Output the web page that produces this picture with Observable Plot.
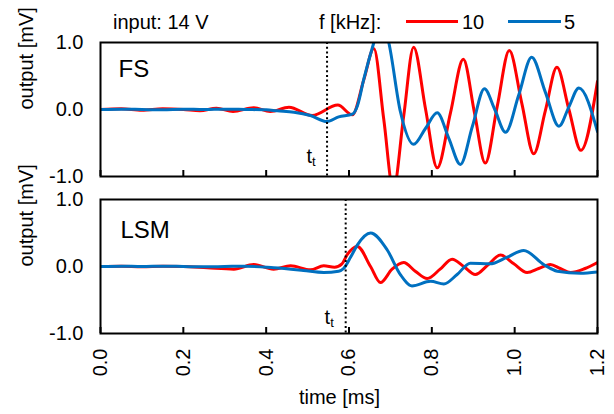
<!DOCTYPE html>
<html>
<head>
<meta charset="utf-8">
<script src="https://cdn.jsdelivr.net/npm/d3@7"></script>
<script src="https://cdn.jsdelivr.net/npm/@observablehq/plot@0.6"></script>
<style>
  html, body { margin: 0; padding: 0; background: #fff; }
  body { width: 614px; height: 414px; overflow: hidden; font-family: "Liberation Sans", Arial, sans-serif; color: #000; }
  #legend { position: relative; width: 614px; height: 32px; font-size: 20px; line-height: 20px; }
  #legend span { position: absolute; white-space: nowrap; }
  #legend .sw { position: absolute; height: 3px; }
</style>
</head>
<body>
<div id="legend"></div>
<div id="chart"></div>
<script>
// ---- data ----
const panels = ["FS", "LSM"];
const freqs = ["10", "5"];            // kHz
const colors = ["#FF0000", "#0070C0"];
const inputLabel = "input: 14 V";
const ttTimes = [0.547, 0.592];       // t_t marker per panel (ms)

const xTicks = [0, 0.2, 0.4, 0.6, 0.8, 1.0, 1.2];
const yTicks = [-1, 0, 1];

// FS, 10 kHz
const fsTime10 = [0, 0.05, 0.1, 0.15, 0.2, 0.24, 0.28, 0.32, 0.37, 0.41, 0.455, 0.511, 0.573, 0.608, 0.636, 0.660, 0.684, 0.707, 0.732, 0.756, 0.785, 0.813, 0.845, 0.876, 0.903, 0.929, 0.958, 0.987, 1.017, 1.046, 1.074, 1.102, 1.131, 1.160, 1.2];
const fsOut10  = [0, 0.01, -0.01, 0.01, 0, -0.02, 0.02, -0.03, 0.025, -0.03, 0.035, -0.09, 0.067, -0.08, 0.45, 0.91, -0.15, -1.2, -0.1, 0.93, 0.0, -0.87, -0.05, 0.75, -0.05, -0.80, 0.05, 0.88, 0.1, -0.66, -0.02, 0.63, 0.0, -0.61, 0.42];
// FS, 5 kHz
const fsTime5 = [0, 0.05, 0.1, 0.15, 0.2, 0.25, 0.3, 0.35, 0.4, 0.427, 0.467, 0.507, 0.547, 0.575, 0.608, 0.62, 0.636, 0.660, 0.678, 0.696, 0.724, 0.756, 0.785, 0.813, 0.841, 0.869, 0.898, 0.927, 0.952, 0.978, 1.01, 1.041, 1.074, 1.107, 1.131, 1.155, 1.2];
const fsOut5  = [0, 0.005, 0, -0.005, 0.005, 0, 0.005, 0, -0.005, -0.02, -0.04, -0.09, -0.18, -0.11, -0.07, 0.05, 0.46, 1.0, 1.35, 1.0, -0.03, -0.52, -0.28, -0.05, -0.43, -0.82, -0.25, 0.31, 0.0, -0.34, 0.22, 0.78, 0.26, -0.25, 0.04, 0.32, -0.33];
// LSM, 10 kHz
const lsmTime10 = [0, 0.05, 0.1, 0.15, 0.2, 0.258, 0.322, 0.37, 0.418, 0.459, 0.507, 0.539, 0.565, 0.583, 0.596, 0.620, 0.652, 0.676, 0.704, 0.732, 0.760, 0.789, 0.82, 0.849, 0.877, 0.905, 0.935, 0.966, 0.998, 1.030, 1.058, 1.086, 1.11, 1.135, 1.17, 1.2];
const lsmOut10  = [0, 0.005, -0.005, 0.005, 0, -0.02, -0.04, 0.03, -0.04, 0.01, -0.05, 0.01, -0.01, 0.04, 0.18, 0.30, 0.0, -0.24, -0.04, 0.06, -0.07, -0.18, -0.04, 0.11, 0.0, -0.12, 0.02, 0.17, 0.04, -0.09, -0.03, 0.03, -0.03, -0.09, -0.03, 0.06];
// LSM, 5 kHz
const lsmTime5 = [0, 0.05, 0.1, 0.15, 0.2, 0.25, 0.3, 0.35, 0.418, 0.49, 0.539, 0.575, 0.587, 0.604, 0.62, 0.652, 0.692, 0.724, 0.752, 0.797, 0.829, 0.861, 0.893, 0.94, 0.982, 1.022, 1.070, 1.103, 1.159, 1.2];
const lsmOut5  = [0, 0.005, 0, 0.005, 0, -0.005, 0, 0.005, -0.02, -0.06, -0.09, -0.07, -0.03, 0.14, 0.32, 0.50, 0.25, -0.12, -0.29, -0.22, -0.26, -0.12, 0.05, 0.04, 0.14, 0.24, 0.03, -0.07, -0.10, -0.08];

// ---- build table ----
function series(panel, freq, ts, vs) { return ts.map((t, i) => ({panel, freq, t, v: vs[i]})); }
const rows = [
  ...series("FS", "10", fsTime10, fsOut10),
  ...series("FS", "5", fsTime5, fsOut5),
  ...series("LSM", "10", lsmTime10, lsmOut10),
  ...series("LSM", "5", lsmTime5, lsmOut5)
];
const ttRows = panels.map((p, i) => ({panel: p, t: ttTimes[i]}));

// ---- legend (HTML above the SVG) ----
const legend = document.getElementById("legend");
legend.innerHTML = `
  <span style="left:113px;top:12px">${inputLabel}</span>
  <span style="left:319px;top:12px">f [kHz]:</span>
  <div class="sw" style="left:406px;top:20px;width:52px;background:${colors[0]}"></div>
  <span style="left:462px;top:12px">${freqs[0]}</span>
  <div class="sw" style="left:508px;top:20px;width:53px;background:${colors[1]}"></div>
  <span style="left:564px;top:12px">${freqs[1]}</span>`;

const font = "Liberation Sans, Arial, sans-serif";
const chart = Plot.plot({
  width: 614,
  height: 382,
  marginLeft: 100,
  marginRight: 17,
  marginTop: 10,
  marginBottom: 80,
  style: {fontFamily: font, fontSize: "20px", color: "black", background: "white", overflow: "visible"},
  x: {domain: [0, 1.2]},
  y: {domain: [-1, 1]},
  fy: {domain: panels, axis: null, paddingInner: 0.146, paddingOuter: 0},
  color: {domain: freqs, range: colors},
  marks: [
    Plot.line(rows, {x: "t", y: "v", fy: "panel", z: "freq", stroke: "freq", strokeWidth: 3, curve: "monotone-x", clip: true}),
    Plot.ruleX(ttRows, {x: "t", fy: "panel", stroke: "black", strokeWidth: 2, strokeDasharray: "2,2.7"}),
    Plot.frame({stroke: "black", strokeWidth: 2}),
    Plot.axisX(xTicks, {tickSize: -6, strokeWidth: 2, text: null, label: null, facetAnchor: null}),
    Plot.axisX(xTicks, {tickSize: 0, tickPadding: 15, tickRotate: -90, tickFormat: d => d.toFixed(1), label: null, fontSize: 20}),
    Plot.axisY(yTicks, {tickSize: 0, tickPadding: 17, tickFormat: d => d.toFixed(1), label: null, fontSize: 20}),
    Plot.text(panels, {fy: d => d, text: () => "output [mV]", frameAnchor: "left", rotate: -90, dx: -74, fontSize: 20}),
    Plot.text(["FS"], {fy: d => d, text: d => d, frameAnchor: "top-left", textAnchor: "start", lineAnchor: "middle", dx: 18, dy: 27, fontSize: 24}),
    Plot.text(["LSM"], {fy: d => d, text: d => d, frameAnchor: "top-left", textAnchor: "start", lineAnchor: "middle", dx: 20, dy: 31, fontSize: 24}),
    Plot.text(ttRows.slice(0, 1), {x: "t", fy: "panel", text: () => "t", frameAnchor: "bottom", textAnchor: "end", lineAnchor: "bottom", dx: -15, dy: -13.5, fontSize: 20}),
    Plot.text(ttRows.slice(0, 1), {x: "t", fy: "panel", text: () => "t", frameAnchor: "bottom", textAnchor: "start", lineAnchor: "bottom", dx: -15, dy: -10.5, fontSize: 13}),
    Plot.text(ttRows.slice(1), {x: "t", fy: "panel", text: () => "t", frameAnchor: "bottom", textAnchor: "end", lineAnchor: "bottom", dx: -15.5, dy: -10, fontSize: 20}),
    Plot.text(ttRows.slice(1), {x: "t", fy: "panel", text: () => "t", frameAnchor: "bottom", textAnchor: "start", lineAnchor: "bottom", dx: -15.5, dy: -7, fontSize: 13}),
    Plot.text(["LSM"], {fy: d => d, text: () => "time [ms]", frameAnchor: "bottom", lineAnchor: "bottom", dx: -9.5, dy: 70, fontSize: 20})
  ]
});
document.getElementById("chart").appendChild(chart);
</script>
</body>
</html>
